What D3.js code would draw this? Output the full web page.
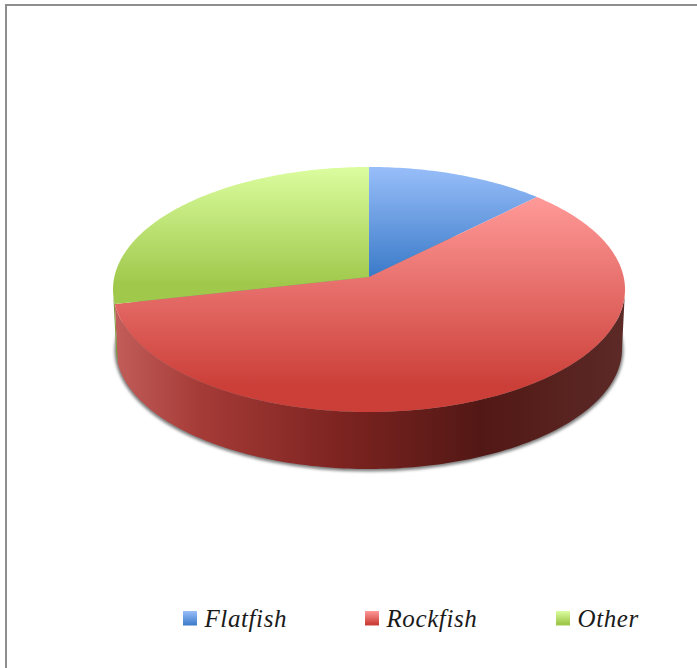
<!DOCTYPE html>
<html>
<head>
<meta charset="utf-8">
<script src="https://cdn.jsdelivr.net/npm/d3@7"></script>
<style>
html,body{margin:0;padding:0;background:#fff;overflow:hidden}
svg{display:block}
</style>
</head>
<body>
<svg id="chart" width="697" height="668"></svg>
<script>
// Landings by species group, share of total (%)
const categories = ["Flatfish", "Rockfish", "Other"];
const shares = [12.5, 59, 28.5];
const faceLight = ["#98bef9", "#ff9a98", "#dbfd9f"];
const faceDark = ["#3d7cca", "#cc3f39", "#a0c94c"];
const faceEnd = [0.97, 0.88, 0.85];
const rimStops = ["#c25e5b", "#a53b37", "#7c2320", "#521815", "#5c2a27"];

const svg = d3.select("#chart");
const defs = svg.append("defs");

// Upper rim and lower rim of the tilted disc, in page pixels
const upperRim = {cx: 369, cy: 289.5, rx: 256, ry: 122.5};
const lowerRim = {cx: 369, cy: 349, rx: 253, ry: 120};
// Perspective shift: the disc centre sits behind the middle of its ellipse
const tilt = -0.102;

function project(e, a, r = 1) {
  const u = r * Math.sin(a), v = -r * Math.cos(a);
  const d = 1 + tilt * v;
  return [
    e.cx + e.rx * u * Math.sqrt(1 - tilt * tilt) / d,
    e.cy + e.ry * (v + tilt) / d
  ];
}

const sweep = (a0, a1) => {
  const n = Math.max(2, Math.ceil((a1 - a0) * 60));
  return d3.range(n + 1).map(i => a0 + (a1 - a0) * i / n);
};

const slices = d3.pie().sort(null).value(d => d)(shares);
const line = d3.line().curve(d3.curveLinear);

categories.forEach((c, i) => {
  const g = defs.append("linearGradient")
    .attr("id", "face" + i).attr("x1", 0).attr("y1", 0).attr("x2", 0).attr("y2", 1);
  g.append("stop").attr("offset", 0).attr("stop-color", faceLight[i]);
  g.append("stop").attr("offset", faceEnd[i]).attr("stop-color", faceDark[i]);
  g.append("stop").attr("offset", 1).attr("stop-color", faceDark[i]);
});

const rim = defs.append("linearGradient")
  .attr("id", "rim").attr("gradientUnits", "userSpaceOnUse")
  .attr("x1", lowerRim.cx - upperRim.rx).attr("x2", lowerRim.cx + upperRim.rx).attr("y1", 0).attr("y2", 0);
[0, 0.17, 0.45, 0.72, 1].forEach((o, i) =>
  rim.append("stop").attr("offset", o).attr("stop-color", rimStops[i]));

defs.append("filter").attr("id", "soft")
  .attr("x", "-5%").attr("y", "-5%").attr("width", "110%").attr("height", "110%")
  .append("feGaussianBlur").attr("stdDeviation", 1.6);

// Frame: left and top rules only
svg.append("path")
  .attr("d", "M6,668V5H697")
  .attr("fill", "none").attr("stroke", "#8e8e8e").attr("stroke-width", 2);

// Soft shadow under the disc
svg.append("ellipse")
  .attr("cx", lowerRim.cx).attr("cy", lowerRim.cy + 1.5)
  .attr("rx", lowerRim.rx + 1.5).attr("ry", lowerRim.ry + 1)
  .attr("fill", "#7f7f7f").attr("filter", "url(#soft)");

// Visible outer wall, from one silhouette point to the other
const wallStart = Math.acos(tilt), wallEnd = 2 * Math.PI - wallStart;
slices.forEach((s, i) => {
  const a0 = Math.max(s.startAngle, wallStart), a1 = Math.min(s.endAngle, wallEnd);
  if (a1 <= a0) return;
  const angles = sweep(a0, a1);
  const pts = angles.map(a => project(upperRim, a))
    .concat(angles.slice().reverse().map(a => project(lowerRim, a)));
  svg.append("path")
    .attr("d", line(pts) + "Z")
    .attr("fill", i === 1 ? "url(#rim)" : "#7f9a3e");
});

// Top face of each slice
svg.selectAll("path.slice").data(slices).join("path")
  .attr("class", "slice")
  .attr("d", s => line([project(upperRim, 0, 0)].concat(
    sweep(s.startAngle, s.endAngle).map(a => project(upperRim, a)))) + "Z")
  .attr("fill", (s, i) => `url(#face${i})`);

// Legend
const legendX = d3.scaleOrdinal().domain(categories).range([183, 365, 556]);
const legend = svg.selectAll("g.key").data(categories).join("g")
  .attr("class", "key")
  .attr("transform", d => `translate(${legendX(d)},611)`);
legend.append("rect")
  .attr("width", 14).attr("height", 14.5)
  .attr("fill", (d, i) => `url(#face${i})`);
legend.append("text")
  .attr("x", 21.5).attr("y", 16)
  .attr("font-family", "'Liberation Serif', serif")
  .attr("font-style", "italic")
  .attr("font-size", 25)
  .attr("letter-spacing", 0.6)
  .attr("fill", "#1a1a1a")
  .text(d => d);
</script>
</body>
</html>
